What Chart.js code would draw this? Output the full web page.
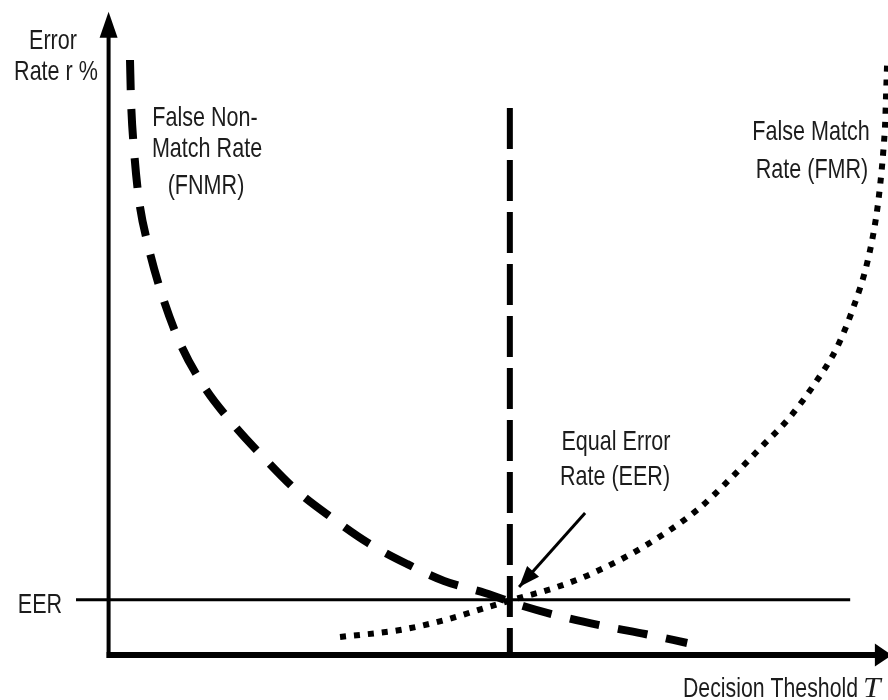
<!DOCTYPE html>
<html>
<head>
<meta charset="utf-8">
<script src="https://cdn.jsdelivr.net/npm/chart.js@4/dist/chart.umd.min.js"></script>
<style>
  html, body { margin: 0; padding: 0; background: #ffffff; }
  canvas { display: block; }
</style>
</head>
<body>
<canvas id="c" width="888" height="700"></canvas>
<script>
// ---- Data (decision threshold T in arbitrary units, error rate r %) ----
const fnmrThreshold = [2.78, 2.91, 3.30, 3.95, 5.12, 6.81, 9.27, 12.26, 16.03, 20.18, 24.47, 29.01, 33.69, 38.75, 43.56, 48.88, 53.82, 59.01, 64.86, 69.66, 75.12];
const fnmrRate      = [96.75, 90.24, 82.11, 73.98, 66.67, 59.03, 50.74, 43.91, 37.74, 32.05, 26.68, 22.29, 18.23, 14.81, 12.05, 10.10, 7.98, 6.19, 4.57, 3.43, 1.97];

const fmrThreshold = [30.05, 37.84, 43.69, 49.27, 52.39, 58.23, 62.91, 69.40, 76.42, 80.70, 84.99, 88.36, 91.74, 94.60, 96.81, 98.49, 99.66, 100.18, 100.57, 100.83, 100.96, 101.09];
const fmrRate      = [2.94, 4.08, 5.71, 7.82, 8.96, 11.07, 13.35, 17.57, 23.59, 28.63, 34.14, 38.53, 44.22, 50.07, 56.90, 63.73, 71.21, 76.41, 81.61, 86.49, 91.55, 96.42];

const eerThreshold = 52.1;          // vertical dashed line
const eerThresholdLineTop = 88.95;  // top of the vertical dashed line
const eerRate = 9.0;                // horizontal EER line
const eerLineSpan = [-4.23, 96.29]; // horizontal extent of the EER line
const arrowFrom = [61.87, 23.09];   // EER annotation arrow start
const arrowTo = [53.30, 11.07];     // EER annotation arrow tip
const yAxisTop = 104.6;
const xAxisEnd = 101.7;

// Labels
const yAxisLabel = ['Error', 'Rate r %'];
const xAxisLabel = 'Decision Theshold';
const xAxisSymbol = 'T';
const fnmrLabel = ['False Non-', 'Match Rate', '(FNMR)'];
const fmrLabel = ['False Match', 'Rate (FMR)'];
const eerNote = ['Equal Error', 'Rate (EER)'];
const eerTick = 'EER';

const toPoints = (xs, ys) => xs.map((x, i) => ({ x: x, y: ys[i] }));

const FONT = '28px "Liberation Sans", Arial, sans-serif';
const SX = 0.77;
const TEXT_COLOR = '#1c1c1c';

function drawText(ctx, text, x, baseline, align, font, sx) {
  ctx.save();
  ctx.translate(x, baseline);
  ctx.scale(sx, 1);
  ctx.font = font;
  ctx.fillStyle = TEXT_COLOR;
  ctx.textAlign = align;
  ctx.textBaseline = 'alphabetic';
  ctx.fillText(text, 0, 0);
  ctx.restore();
}

const decorPlugin = {
  id: 'decor',
  afterDatasetsDraw(chart) {
    const ctx = chart.ctx;
    const xs = chart.scales.x, ys = chart.scales.y;
    const px = v => xs.getPixelForValue(v);
    const py = v => ys.getPixelForValue(v);
    ctx.save();
    ctx.fillStyle = '#000';
    ctx.strokeStyle = '#000';

    // Y axis with arrow
    const x0 = px(0), y0 = py(0);
    const yTip = py(yAxisTop);
    ctx.lineWidth = 4;
    ctx.beginPath();
    ctx.moveTo(x0, y0 + 3);
    ctx.lineTo(x0, yTip + 20);
    ctx.stroke();
    ctx.beginPath();
    ctx.moveTo(x0, yTip);
    ctx.lineTo(x0 - 9, yTip + 26);
    ctx.lineTo(x0 + 9, yTip + 26);
    ctx.closePath();
    ctx.fill();

    // X axis with arrow
    const xTip = px(xAxisEnd);
    ctx.lineWidth = 6;
    ctx.beginPath();
    ctx.moveTo(x0 - 2, y0);
    ctx.lineTo(xTip - 12, y0);
    ctx.stroke();
    ctx.beginPath();
    ctx.moveTo(xTip, y0);
    ctx.lineTo(xTip - 17, y0 - 11.5);
    ctx.lineTo(xTip - 17, y0 + 11.5);
    ctx.closePath();
    ctx.fill();

    // EER annotation arrow head
    const ax0 = px(arrowFrom[0]), ay0 = py(arrowFrom[1]);
    const ax1 = px(arrowTo[0]), ay1 = py(arrowTo[1]);
    const ang = Math.atan2(ay1 - ay0, ax1 - ax0);
    const hl = 21, hw = 8;
    const bx = ax1 - hl * Math.cos(ang), by = ay1 - hl * Math.sin(ang);
    ctx.beginPath();
    ctx.moveTo(ax1, ay1);
    ctx.lineTo(bx + hw * Math.sin(ang), by - hw * Math.cos(ang));
    ctx.lineTo(bx - hw * Math.sin(ang), by + hw * Math.cos(ang));
    ctx.closePath();
    ctx.fill();
    ctx.restore();

    // Texts
    drawText(ctx, yAxisLabel[0], 53, 49, 'center', FONT, SX);
    drawText(ctx, yAxisLabel[1], 56, 80, 'center', FONT, SX);

    drawText(ctx, fnmrLabel[0], 205, 126, 'center', FONT, SX);
    drawText(ctx, fnmrLabel[1], 207, 157, 'center', FONT, SX);
    drawText(ctx, fnmrLabel[2], 206, 194, 'center', FONT, SX);

    drawText(ctx, fmrLabel[0], 811, 140, 'center', FONT, SX);
    drawText(ctx, fmrLabel[1], 812, 178, 'center', FONT, SX);

    drawText(ctx, eerNote[0], 616, 450, 'center', FONT, SX);
    drawText(ctx, eerNote[1], 615, 485, 'center', FONT, SX);

    drawText(ctx, eerTick, 40, py(eerRate) + 13, 'center', FONT, SX);

    drawText(ctx, xAxisLabel, 683, 697, 'left', FONT, 0.76);
    drawText(ctx, xAxisSymbol, 863, 697, 'left', 'italic 30px "Liberation Serif", "Times New Roman", serif', 1.05);
  }
};

new Chart(document.getElementById('c'), {
  type: 'scatter',
  data: {
    datasets: [
      {
        label: 'False Non-Match Rate (FNMR)',
        data: toPoints(fnmrThreshold, fnmrRate),
        showLine: true,
        borderColor: '#000',
        borderWidth: 8,
        borderDash: [30, 19],
        borderCapStyle: 'butt',
        pointRadius: 0,
        cubicInterpolationMode: 'monotone',
        fill: false
      },
      {
        label: 'False Match Rate (FMR)',
        data: toPoints(fmrThreshold, fmrRate),
        showLine: true,
        borderColor: '#000',
        borderWidth: 6,
        borderDash: [6, 8],
        borderCapStyle: 'butt',
        pointRadius: 0,
        cubicInterpolationMode: 'monotone',
        fill: false
      },
      {
        label: 'Threshold at EER',
        data: [{ x: eerThreshold, y: eerThresholdLineTop }, { x: eerThreshold, y: 0 }],
        showLine: true,
        borderColor: '#000',
        borderWidth: 6,
        borderDash: [41, 11],
        borderCapStyle: 'butt',
        pointRadius: 0,
        tension: 0,
        fill: false
      },
      {
        label: 'EER level',
        data: [{ x: eerLineSpan[0], y: eerRate }, { x: eerLineSpan[1], y: eerRate }],
        showLine: true,
        borderColor: '#000',
        borderWidth: 3,
        pointRadius: 0,
        tension: 0,
        fill: false
      },
      {
        label: 'EER arrow',
        data: [{ x: arrowFrom[0], y: arrowFrom[1] }, { x: arrowTo[0], y: arrowTo[1] }],
        showLine: true,
        borderColor: '#000',
        borderWidth: 3,
        pointRadius: 0,
        tension: 0,
        fill: false
      }
    ]
  },
  options: {
    responsive: false,
    animation: false,
    events: [],
    layout: { padding: 0 },
    plugins: {
      legend: { display: false },
      tooltip: { enabled: false },
      title: { display: false }
    },
    scales: {
      x: { type: 'linear', min: -14.1, max: 101.2, display: false },
      y: { type: 'linear', min: -7.3, max: 106.5, display: false }
    }
  },
  plugins: [decorPlugin]
});
</script>
</body>
</html>
